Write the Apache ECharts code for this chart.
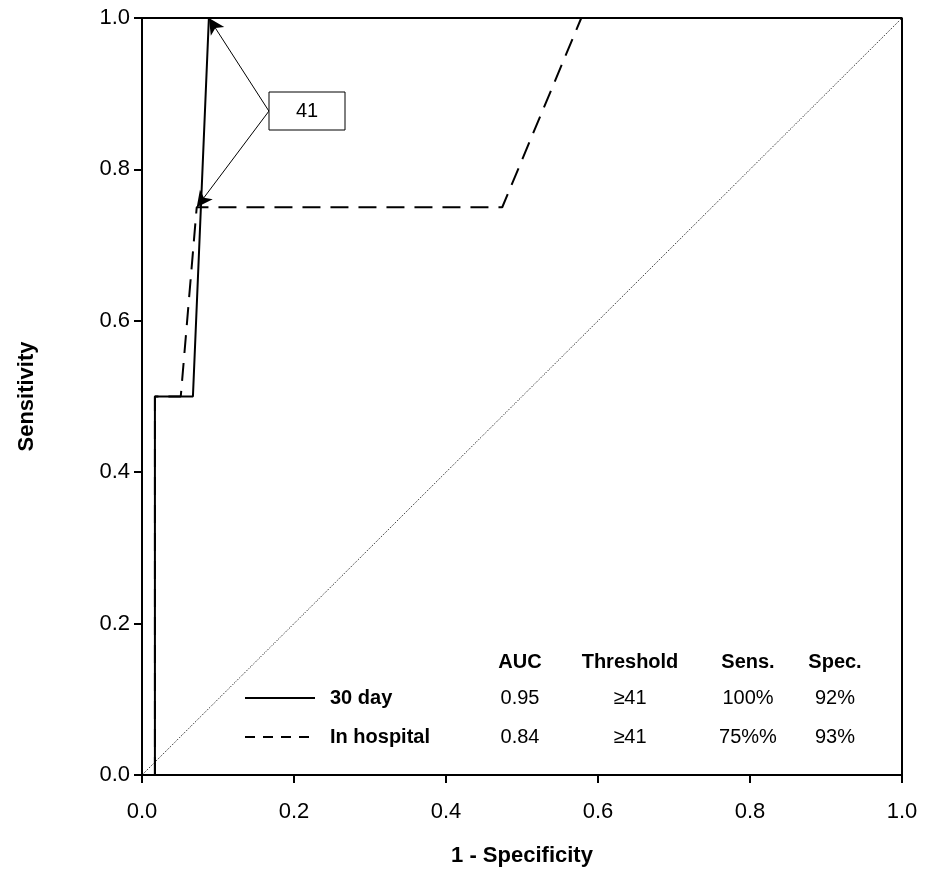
<!DOCTYPE html>
<html><head><meta charset="utf-8">
<script src="https://cdn.jsdelivr.net/npm/echarts@6/dist/echarts.min.js"></script>
<style>body{margin:0}#c{width:925px;height:890px}</style></head>
<body><div id="c"></div>
<script>
var day30 = [[0.017,0],[0.017,0.5],[0.067,0.5],[0.088,1],[1,1]];
var inHospital = [[0.017,0],[0.017,0.5],[0.051,0.5],[0.072,0.75],[0.474,0.75],[0.578,1],[1,1]];
var diagonal = [[0,0],[1,1]];
var tableHead = ['AUC','Threshold','Sens.','Spec.'];
var row30 = ['30 day','0.95','\u226541','100%','92%'];
var rowHosp = ['In hospital','0.84','\u226541','75%%','93%'];

var chart = echarts.init(document.getElementById('c'));
var F = 'Liberation Sans, Arial, sans-serif';
var cols = [520, 630, 748, 835];
var g = [];
tableHead.forEach(function(h,i){
  g.push({type:'text', x:cols[i], y:662, style:{text:h, font:'bold 20px '+F, fill:'#000', textAlign:'center', textVerticalAlign:'middle'}});
});
[row30,rowHosp].forEach(function(r,k){
  var y = k ? 737 : 698;
  g.push({type:'line', shape:{x1:245,y1:y,x2:315,y2:y}, style:{stroke:'#000', lineWidth:2, lineDash:k?[10,8]:null}});
  g.push({type:'text', x:330, y:y, style:{text:r[0], font:'bold 20px '+F, fill:'#000', textAlign:'left', textVerticalAlign:'middle'}});
  for (var i=1;i<5;i++) g.push({type:'text', x:cols[i-1], y:y, style:{text:r[i], font:'20px '+F, fill:'#000', textAlign:'center', textVerticalAlign:'middle'}});
});
g.push({type:'rect', shape:{x:269,y:92,width:76,height:38}, style:{fill:'#fff', stroke:'#000', lineWidth:1}, z:10});
g.push({type:'text', x:307, y:111, style:{text:'41', font:'20px '+F, fill:'#000', textAlign:'center', textVerticalAlign:'middle'}, z:11});

function fmt(v){return v.toFixed(1);}
chart.setOption({
  animation:false,
  grid:{left:142, right:23, top:18, bottom:115},
  xAxis:{type:'value', min:0, max:1, interval:0.2, name:'1 - Specificity', nameLocation:'middle', nameGap:70,
    nameTextStyle:{fontFamily:F, fontSize:22, fontWeight:'bold', color:'#000'},
    axisLine:{lineStyle:{color:'#000', width:2}}, axisTick:{length:8, lineStyle:{width:2}},
    axisLabel:{fontFamily:F, fontSize:22, color:'#000', margin:26, formatter:fmt}, splitLine:{show:false}},
  yAxis:{type:'value', min:0, max:1, interval:0.2, name:'Sensitivity', nameLocation:'middle', nameGap:104,
    nameTextStyle:{fontFamily:F, fontSize:22, fontWeight:'bold', color:'#000'},
    axisLine:{lineStyle:{color:'#000', width:2}}, axisTick:{length:8, lineStyle:{width:2}},
    axisLabel:{fontFamily:F, fontSize:22, color:'#000', margin:12, formatter:fmt}, splitLine:{show:false}},
  graphic:g,
  series:[
    {type:'line', data:diagonal, symbol:'none', lineStyle:{color:'#000', width:1, type:[1,1.5]}},
    {type:'line', data:inHospital, symbol:'none', lineStyle:{color:'#000', width:2, type:[18,10]}},
    {type:'line', data:day30, symbol:'none', lineStyle:{color:'#000', width:2},
      markLine:{silent:true, symbol:['none','arrow'], symbolSize:[12,16], label:{show:false},
        lineStyle:{color:'#000', width:1, type:'solid'},
        data:[[{coord:[0.167,0.877]},{coord:[0.088,1]}],[{coord:[0.167,0.877]},{coord:[0.072,0.75]}]]}},
    {type:'line', data:[[0,1],[1,1],[1,0]], symbol:'none', lineStyle:{color:'#000', width:2}}
  ]
});
</script></body></html>
